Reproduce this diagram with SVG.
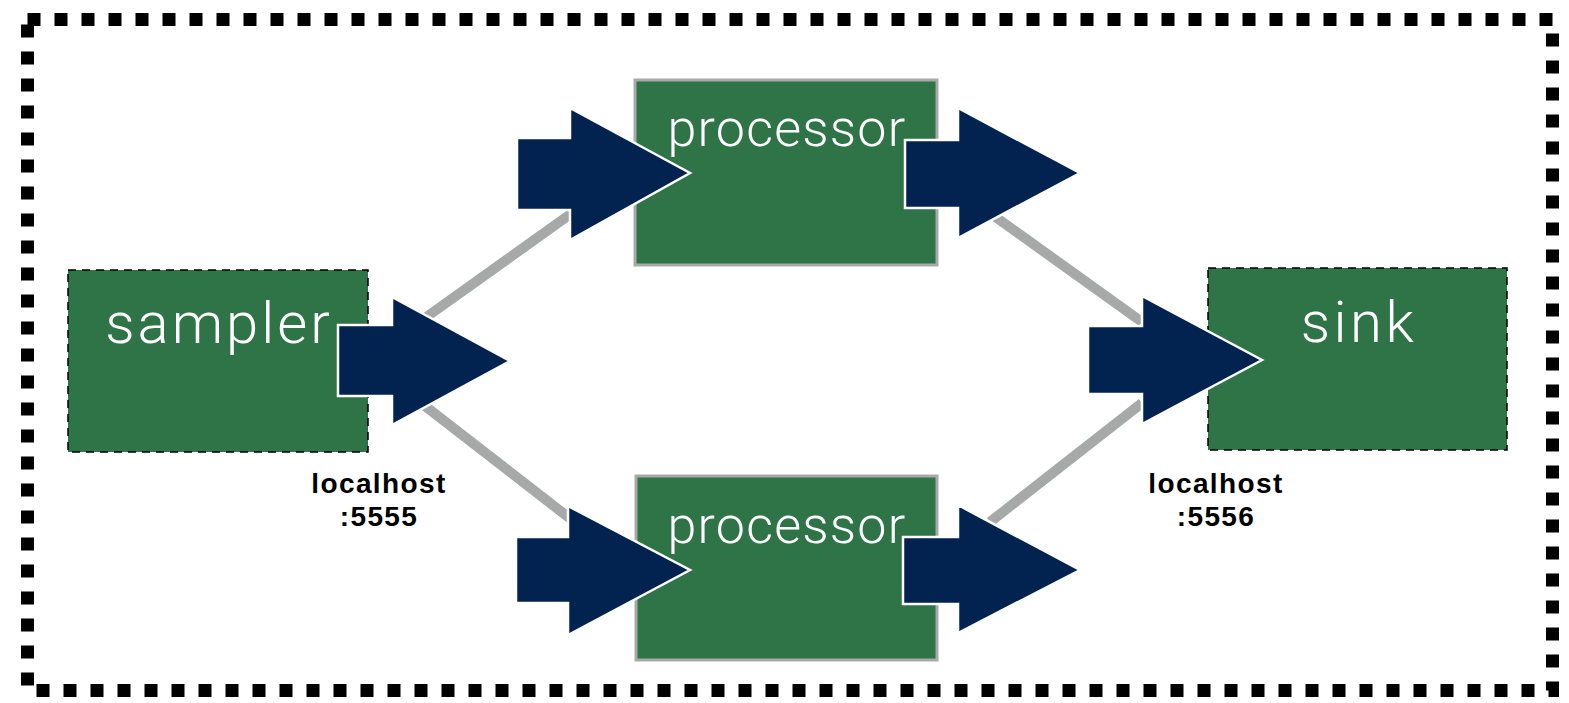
<svg xmlns="http://www.w3.org/2000/svg" width="1569" height="703" viewBox="0 0 1569 703">
<defs>
<style>
.node{fill:#2f7446;}
.lbl{fill:#ffffff;font-family:Roboto,Lato,"Liberation Sans",sans-serif;font-weight:300;text-anchor:middle;}
.arrow{fill:#02234f;stroke:#ffffff;stroke-width:2.5;stroke-linejoin:miter;}
.conn{stroke:#a6a9a7;stroke-width:10;fill:none;}
.port{font-family:"Liberation Sans",Arial,sans-serif;font-weight:bold;font-size:28px;letter-spacing:1.4px;fill:#000;text-anchor:middle;}
.dash{fill:none;stroke:#000;stroke-width:1.5;stroke-dasharray:8 6;}
.gray{fill:none;stroke:#a9a9a9;stroke-width:3;}
</style>
</defs>
<rect x="27.5" y="19.5" width="1525" height="671" fill="none" stroke="#000" stroke-width="13" stroke-dasharray="13 14"/>
<g id="connectors">
<line class="conn" x1="425" y1="318" x2="572" y2="213"/>
<line class="conn" x1="425" y1="406" x2="572" y2="520"/>
<line class="conn" x1="990" y1="213" x2="1142" y2="322"/>
<line class="conn" x1="990" y1="522" x2="1142" y2="403"/>
</g>
<g id="sampler">
<rect class="node" x="68" y="270" width="300" height="182"/>
<rect class="dash" x="68" y="270" width="300" height="182"/>
<text class="lbl" x="219" y="343" font-size="58" letter-spacing="3">sampler</text>
</g>
<g id="processor-top">
<rect class="node" x="635" y="80" width="302" height="185"/>
<rect class="gray" x="635" y="80" width="302" height="185"/>
<text class="lbl" x="787" y="146" font-size="52" letter-spacing="1.2">processor</text>
</g>
<g id="processor-bottom">
<rect class="node" x="636" y="476" width="301" height="184"/>
<rect class="gray" x="636" y="476" width="301" height="184"/>
<text class="lbl" x="787" y="543" font-size="52" letter-spacing="1.2">processor</text>
</g>
<g id="sink">
<rect class="node" x="1208" y="268" width="299" height="182"/>
<rect class="dash" x="1208" y="268" width="299" height="182"/>
<text class="lbl" x="1359" y="342" font-size="58" letter-spacing="3.5">sink</text>
</g>
<g id="arrows">
<polygon class="arrow" points="338,325 392,325 392,297 510,361 392,425 392,396 338,396"/>
<polygon class="arrow" points="517,138 570,138 570,108 690,173 570,240 570,210 517,210"/>
<polygon class="arrow" points="905,140 958,140 958,108 1080,173 958,238 958,208 905,208"/>
<polygon class="arrow" points="1088,326 1142,326 1142,296 1262,360 1142,424 1142,394 1088,394"/>
<polygon class="arrow" points="516,537 568,537 568,506 690,570 568,635 568,603 516,603"/>
<polygon class="arrow" points="903,537 958,537 958,505 1080,570 958,633 958,604 903,604"/>
</g>
<g id="labels">
<text class="port" x="379" y="493">localhost</text>
<text class="port" x="379" y="526">:5555</text>
<text class="port" x="1216" y="493">localhost</text>
<text class="port" x="1216" y="526">:5556</text>
</g>
</svg>
